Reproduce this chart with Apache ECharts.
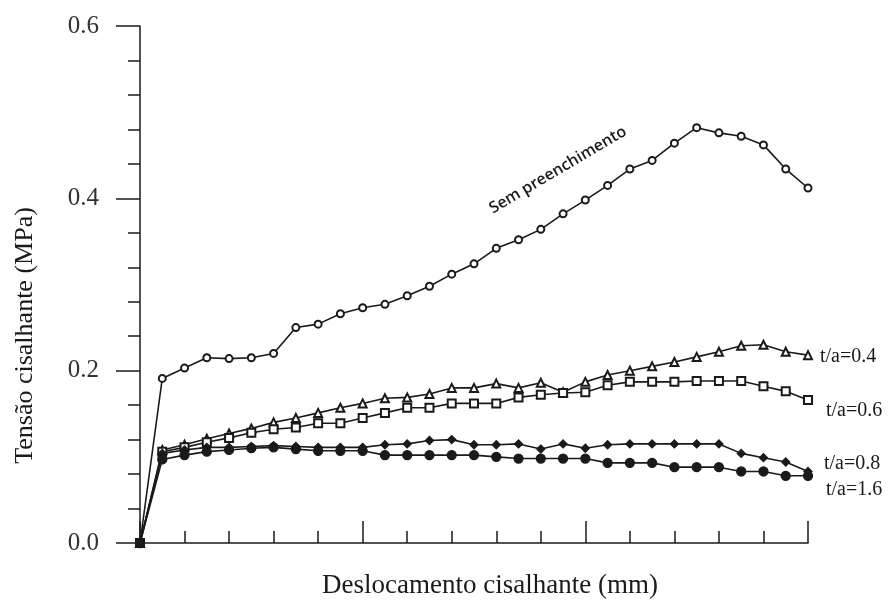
<!DOCTYPE html>
<html>
<head>
<meta charset="utf-8">
<script src="https://cdn.jsdelivr.net/npm/echarts@6/dist/echarts.min.js"></script>
<style>
  html, body { margin: 0; padding: 0; background: #fff; }
  #chart { width: 891px; height: 604px; }
</style>
</head>
<body>
<div id="chart"></div>
<script>
// Shear displacement steps (mm)
const displacement = [0, 0.5, 1, 1.5, 2, 2.5, 3, 3.5, 4, 4.5, 5, 5.5, 6, 6.5, 7, 7.5,
  8, 8.5, 9, 9.5, 10, 10.5, 11, 11.5, 12, 12.5, 13, 13.5, 14, 14.5, 15];

// Shear stress (MPa) for each joint condition
const semPreenchimento = [0, 0.191, 0.203, 0.215, 0.214, 0.215, 0.220, 0.250, 0.254, 0.266, 0.273,
  0.277, 0.287, 0.298, 0.312, 0.324, 0.342, 0.352, 0.364, 0.382, 0.398,
  0.415, 0.434, 0.444, 0.464, 0.482, 0.476, 0.472, 0.462, 0.434, 0.412];
const ta04 = [0, 0.108, 0.114, 0.121, 0.127, 0.133, 0.140, 0.145, 0.151, 0.157, 0.162,
  0.168, 0.169, 0.173, 0.180, 0.180, 0.185, 0.180, 0.186, 0.175, 0.187,
  0.195, 0.200, 0.205, 0.210, 0.216, 0.222, 0.229, 0.230, 0.222, 0.218];
const ta06 = [0, 0.106, 0.111, 0.117, 0.122, 0.128, 0.132, 0.134, 0.139, 0.139, 0.145,
  0.151, 0.157, 0.157, 0.162, 0.162, 0.162, 0.169, 0.172, 0.174, 0.175,
  0.183, 0.187, 0.187, 0.187, 0.188, 0.188, 0.188, 0.182, 0.176, 0.166];
const ta08 = [0, 0.104, 0.108, 0.111, 0.111, 0.112, 0.113, 0.112, 0.111, 0.111, 0.111,
  0.114, 0.115, 0.119, 0.120, 0.114, 0.114, 0.115, 0.109, 0.115, 0.110,
  0.114, 0.115, 0.115, 0.115, 0.115, 0.115, 0.104, 0.099, 0.094, 0.083];
const ta16 = [0, 0.097, 0.102, 0.106, 0.108, 0.110, 0.111, 0.109, 0.107, 0.107, 0.107,
  0.102, 0.102, 0.102, 0.102, 0.102, 0.100, 0.098, 0.098, 0.098, 0.098,
  0.093, 0.093, 0.093, 0.088, 0.088, 0.088, 0.083, 0.083, 0.078, 0.078];

// Y-axis tick labels
const yTickLabels = ['0.0', '0.2', '0.4', '0.6'];

const ink = '#1a1a1a';
const serif = '"Liberation Serif", "DejaVu Serif", serif';

function pairs(ys) {
  return displacement.map((x, i) => [x, ys[i]]);
}

function curve(name, ys, symbol, size, endLabel) {
  const s = {
    name: name,
    type: 'line',
    data: pairs(ys),
    symbol: symbol,
    symbolSize: size,
    showAllSymbol: true,
    lineStyle: { color: ink, width: 1.6 },
    itemStyle: { color: ink, borderColor: ink, borderWidth: 1.3 },
    emphasis: { disabled: true },
    animation: false,
    z: 3
  };
  if (endLabel) {
    s.endLabel = {
      show: true,
      formatter: name,
      fontFamily: serif,
      fontSize: 20,
      color: ink,
      distance: 12,
      offset: endLabel
    };
  }
  return s;
}

const chart = echarts.init(document.getElementById('chart'), null, { renderer: 'canvas' });

chart.setOption({
  backgroundColor: '#ffffff',
  animation: false,
  grid: { left: 140, right: 83, top: 26, bottom: 61, containLabel: false, outerBoundsMode: 'none' },
  xAxis: {
    type: 'value',
    min: 0,
    max: 15,
    interval: 5,
    name: 'Deslocamento cisalhante (mm)',
    nameLocation: 'middle',
    nameGap: 29,
    nameTextStyle: { fontFamily: serif, fontSize: 27, color: ink, padding: [0, 0, 0, 32] },
    axisLine: { show: true, lineStyle: { color: ink, width: 1.5 } },
    axisTick: { show: true, inside: true, length: 22, lineStyle: { color: ink, width: 1.5 } },
    minorTick: { show: true, splitNumber: 5, length: 12, lineStyle: { color: ink, width: 1.5 } },
    axisLabel: { show: false },
    splitLine: { show: false },
    minorSplitLine: { show: false }
  },
  yAxis: {
    type: 'value',
    min: 0,
    max: 0.6,
    interval: 0.2,
    name: 'Tensão cisalhante (MPa)',
    nameLocation: 'middle',
    nameRotate: 90,
    nameGap: 102,
    nameTextStyle: { fontFamily: serif, fontSize: 26, color: ink, padding: [0, 102, 0, 0] },
    axisLine: { show: true, lineStyle: { color: ink, width: 1.5 } },
    axisTick: { show: true, inside: false, length: 24, lineStyle: { color: ink, width: 1.5 } },
    minorTick: { show: true, splitNumber: 5, length: 12, lineStyle: { color: ink, width: 1.5 } },
    axisLabel: {
      show: true,
      margin: 41,
      fontFamily: serif,
      fontSize: 25,
      color: '#333',
      formatter: (v) => yTickLabels[Math.round(v / 0.2)]
    },
    splitLine: { show: false },
    minorSplitLine: { show: false }
  },
  series: [
    curve('Sem preenchimento', semPreenchimento, 'emptyCircle', 7, null),
    curve('t/a=0.4', ta04, 'emptyTriangle', 8, [0, 2]),
    curve('t/a=0.6', ta06, 'emptyRect', 8, [6, 11]),
    curve('t/a=0.8', ta08, 'diamond', 8, [4, -8]),
    curve('t/a=1.6', ta16, 'circle', 9, [6, 14])
  ],
  graphic: [
    {
      type: 'text',
      x: 558,
      y: 170,
      rotation: 30.6 * Math.PI / 180,
      style: {
        text: 'Sem preenchimento',
        x: 0,
        y: 0,
        align: 'center',
        verticalAlign: 'middle',
        fontFamily: '"Open Sans", "Noto Sans", sans-serif',
        fontWeight: 600,
        fontSize: 16,
        fill: ink
      }
    }
  ]
});
</script>
</body>
</html>
